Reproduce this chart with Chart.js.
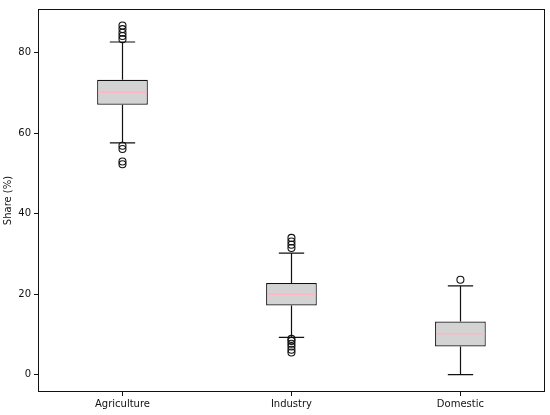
<!DOCTYPE html>
<html>
<head>
<meta charset="utf-8">
<script src="https://cdn.jsdelivr.net/npm/chart.js@4.4.1/dist/chart.umd.min.js"></script>
<style>
  html, body { margin: 0; padding: 0; background: #fff; }
  #wrap { width: 550px; height: 415px; }
</style>
</head>
<body>
<div id="wrap"><canvas id="chart" width="550" height="415"></canvas></div>
<script>
const categories = ['Agriculture', 'Industry', 'Domestic'];
// box stats
const q1 = [67.1, 17.2, 7.0];
const q3 = [73.3, 22.8, 13.2];
const medians = [70.2, 20.0, 10.2];
const whiskerLow = [57.6, 9.3, 0.0];
const whiskerHigh = [82.7, 30.2, 22.1];
const outliers = [
  [86.8, 85.9, 85.0, 84.2, 83.4, 56.9, 56.1, 53.0, 52.3],
  [34.0, 33.1, 32.3, 31.5, 8.9, 8.4, 7.7, 7.0, 6.2, 5.5],
  [23.6]
];
const yTicks = [0, 20, 40, 60, 80];

const outlierPoints = [];
outliers.forEach((list, i) => {
  list.forEach(v => outlierPoints.push({ x: categories[i], y: v }));
});

// whiskers, caps, medians and the axes frame
const boxExtras = {
  id: 'boxExtras',
  afterDatasetsDraw(chart) {
    const ctx = chart.ctx;
    const xs = chart.scales.x;
    const ys = chart.scales.y;
    const bars = chart.getDatasetMeta(0).data;
    ctx.save();
    categories.forEach((c, i) => {
      const x = Math.round(xs.getPixelForValue(i)) + 0.5;
      const half = bars[i].width / 2;
      const cap = half / 2;
      ctx.strokeStyle = '#111';
      ctx.lineWidth = 1.2;
      ctx.beginPath();
      ctx.moveTo(x, ys.getPixelForValue(q3[i]));
      ctx.lineTo(x, ys.getPixelForValue(whiskerHigh[i]));
      ctx.moveTo(x, ys.getPixelForValue(q1[i]));
      ctx.lineTo(x, ys.getPixelForValue(whiskerLow[i]));
      ctx.moveTo(x - cap, ys.getPixelForValue(whiskerHigh[i]));
      ctx.lineTo(x + cap, ys.getPixelForValue(whiskerHigh[i]));
      ctx.moveTo(x - cap, ys.getPixelForValue(whiskerLow[i]));
      ctx.lineTo(x + cap, ys.getPixelForValue(whiskerLow[i]));
      ctx.stroke();
      ctx.strokeStyle = '#ffb6c1';
      ctx.lineWidth = 1.5;
      ctx.beginPath();
      ctx.moveTo(x - half + 1, ys.getPixelForValue(medians[i]));
      ctx.lineTo(x + half - 1, ys.getPixelForValue(medians[i]));
      ctx.stroke();
    });
    const a = chart.chartArea;
    ctx.strokeStyle = '#111';
    ctx.lineWidth = 1;
    ctx.strokeRect(Math.round(a.left) + 0.5, Math.round(a.top) + 0.5,
      Math.round(a.right - a.left) - 1, Math.round(a.bottom - a.top) - 1);
    ctx.restore();
  }
};

const ctx = document.getElementById('chart');
const myChart = new Chart(ctx, {
  data: {
    labels: categories,
    datasets: [{
      type: 'bar',
      data: categories.map((c, i) => [q1[i], q3[i]]),
      backgroundColor: '#d3d3d3',
      borderColor: '#111',
      borderWidth: 1.2,
      borderSkipped: false,
      categoryPercentage: 1,
      barPercentage: 0.3,
      order: 2
    }, {
      type: 'scatter',
      data: outlierPoints,
      pointRadius: 3.5,
      pointBackgroundColor: 'rgba(0,0,0,0)',
      pointBorderColor: '#111',
      pointBorderWidth: 1.1,
      order: 1
    }]
  },
  options: {
    responsive: false,
    animation: false,
    layout: { padding: { top: 9, right: 5, left: 0, bottom: 0 } },
    plugins: {
      legend: { display: false },
      tooltip: { enabled: false }
    },
    scales: {
      x: {
        type: 'category',
        offset: true,
        grid: { display: true, offset: false, drawOnChartArea: false, color: '#111', tickLength: 4 },
        border: { display: false },
        ticks: { color: '#111', font: { family: 'DejaVu Sans', size: 10 }, padding: 2 },
        afterFit(scale) { scale.height = 23; }
      },
      y: {
        min: -4.3,
        max: 90.9,
        grid: { display: true, drawOnChartArea: false, color: '#111', tickLength: 4 },
        border: { display: false },
        ticks: { color: '#111', font: { family: 'DejaVu Sans', size: 10 }, padding: 3 },
        afterBuildTicks(scale) { scale.ticks = yTicks.map(v => ({ value: v })); },
        title: {
          display: true,
          text: 'Share (%)',
          color: '#111',
          font: { family: 'DejaVu Sans', size: 10 },
          padding: { top: 2, bottom: 0 }
        },
        afterFit(scale) { scale.width = 38; }
      }
    }
  },
  plugins: [boxExtras]
});
</script>
</body>
</html>
